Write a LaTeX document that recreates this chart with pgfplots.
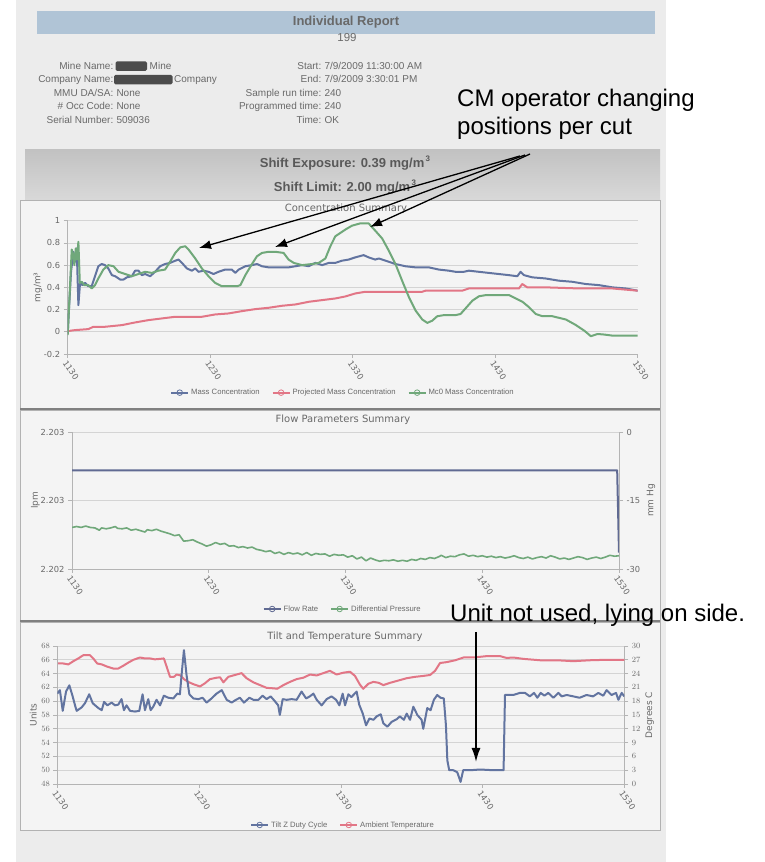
\documentclass[border=0pt]{standalone}
\usepackage{pgfplots}
\pgfplotsset{compat=1.18}
\usepackage{fontspec}
\setmainfont{Liberation Sans}
\newfontfamily\dv{DejaVu Sans}
\usetikzlibrary{arrows.meta}
\definecolor{cblue}{RGB}{98,116,160}
\definecolor{cred}{RGB}{226,118,134}
\definecolor{cgreen}{RGB}{112,168,122}
\definecolor{cflow}{RGB}{96,106,146}
\definecolor{gridc}{RGB}{212,212,212}
\definecolor{axc}{RGB}{180,180,180}
\definecolor{txtc}{RGB}{105,105,105}
\definecolor{paper}{RGB}{236,236,236}
\definecolor{panel}{RGB}{244,244,244}
\definecolor{bandblue}{RGB}{176,196,214}
\newcommand\tkfont{\dv\fontsize{8.3}{9}\selectfont}
\newcommand\lgfont{\fontsize{7.7}{8}\selectfont}
\pgfplotsset{rep/.style={
  scale only axis, anchor=south west,
  xmin=0, xmax=240, xtick={0,60,120,180,240},
  xticklabels={1130,1230,1330,1430,1530},
  axis line style={draw=axc, line width=0.7pt},
  tick style={draw=axc, line width=0.6pt},
  major tick length=4pt, tick align=outside,
  ymajorgrids, major grid style={draw=gridc, line width=0.6pt},
  xticklabel style={rotate=-55, anchor=north west, font=\tkfont, text=txtc, inner sep=1pt},
  yticklabel style={font=\tkfont, text=txtc},
  ylabel style={font=\dv\fontsize{9}{10}\selectfont, text=txtc, anchor=center},
  legend style={draw=none, fill=none, font=\lgfont, text=txtc, legend columns=-1,
     /tikz/every even column/.append style={column sep=10pt}},
  legend cell align=left,
  every axis plot/.append style={line width=2pt, line join=round},
}}
\pgfplotsset{noxax/.style={axis x line=none, xtick=\empty, xticklabels={}}}
\begin{document}
\begin{tikzpicture}[x=1pt,y=1pt]
\path[use as bounding box, fill=white] (0,0) rectangle (764,862);
\fill[paper] (16,0) rectangle (666,862);
% header
\fill[bandblue] (37,851) rectangle (655,828);
\node[font=\bfseries\fontsize{13}{14}\selectfont, text=txtc] at (346,840) {Individual Report};
\node[font=\fontsize{11.5}{12}\selectfont, text=txtc] at (347,824) {199};
\begin{scope}[every node/.style={inner sep=0pt, text=txtc, font=\fontsize{10}{11}\selectfont}]
\node[anchor=base east] at (113.5,792.5) {Mine Name:};
\fill[black!70, rounded corners=1.5pt] (115.5,800.5) rectangle (147,791);
\node[anchor=base west] at (149.5,792.5) {Mine};
\node[anchor=base east] at (113.5,779) {Company Name:};
\fill[black!70, rounded corners=1.5pt] (114,787) rectangle (172.5,777.5);
\node[anchor=base west] at (174,779) {Company};
\node[anchor=base east] at (113.5,765.5) {MMU DA/SA:};
\node[anchor=base west] at (116.3,765.5) {None};
\node[anchor=base east] at (113.5,752) {\# Occ Code:};
\node[anchor=base west] at (116.3,752) {None};
\node[anchor=base east] at (113.5,738) {Serial Number:};
\node[anchor=base west] at (116.3,738) {509036};
\node[anchor=base east] at (321.5,792.5) {Start:};
\node[anchor=base west] at (324.3,792.5) {7/9/2009 11:30:00 AM};
\node[anchor=base east] at (321.5,779) {End:};
\node[anchor=base west] at (324.3,779) {7/9/2009 3:30:01 PM};
\node[anchor=base east] at (321.5,765.5) {Sample run time:};
\node[anchor=base west] at (324.3,765.5) {240};
\node[anchor=base east] at (321.5,752) {Programmed time:};
\node[anchor=base west] at (324.3,752) {240};
\node[anchor=base east] at (321.5,738) {Time:};
\node[anchor=base west] at (324.3,738) {OK};
\end{scope}
% shift band
\shade[top color=black!24, bottom color=black!15] (25,712) rectangle (660,662);
\node[font=\bfseries\fontsize{13}{14}\selectfont, text=black!65] at (345,699) {Shift Exposure: 0.39 mg/m\raisebox{6pt}{\fontsize{8}{8}\selectfont\,3}};
\node[font=\bfseries\fontsize{13}{14}\selectfont, text=black!65] at (345,675) {Shift Limit: 2.00 mg/m\raisebox{6pt}{\fontsize{8}{8}\selectfont\,3}};
% panels
\filldraw[fill=panel, draw=black!30, line width=0.6pt] (20,662) rectangle (660,453);
\filldraw[fill=panel, draw=black!30, line width=0.6pt] (20,452) rectangle (660,241);
\filldraw[fill=panel, draw=black!30, line width=0.6pt] (20,240) rectangle (660,32);
\draw[black!50, line width=1.4pt] (20,453) -- (660,453);
\draw[black!50, line width=1.4pt] (20,241) -- (660,241);
\node[font=\dv\fontsize{10}{11}\selectfont, text=txtc] at (346,653) {Concentration Summary};
\node[font=\dv\fontsize{10}{11}\selectfont, text=txtc] at (343,442) {Flow Parameters Summary};
\node[font=\dv\fontsize{10}{11}\selectfont, text=txtc] at (345,225) {Tilt and Temperature Summary};

% ---------- chart 1 ----------
\begin{axis}[rep, at={(67.7pt,508pt)}, width=570pt, height=133.3pt,
  ymin=-0.2, ymax=1, ytick={-0.2,0,0.2,0.4,0.6,0.8,1},
  yticklabels={-0.2,0,0.2,0.4,0.6,0.8,1},
  axis x line*=bottom, axis y line*=left,
  ylabel={mg/m³}, ylabel style={at={(axis description cs:-0.052,0.5)}},
  legend style={at={(axis description cs:0.483,-0.29)}, anchor=center}]
\addlegendimage{cblue, line width=1.8pt, mark=o, mark size=2.8pt, mark options={fill=white, line width=0.8pt, solid}}
\addlegendentry{Mass Concentration}
\addlegendimage{cred, line width=1.8pt, mark=o, mark size=2.8pt, mark options={fill=white, line width=0.8pt, solid}}
\addlegendentry{Projected Mass Concentration}
\addlegendimage{cgreen, line width=1.8pt, mark=o, mark size=2.8pt, mark options={fill=white, line width=0.8pt, solid}}
\addlegendentry{Mc0 Mass Concentration}
\addplot[cblue, forget plot] coordinates {(0,-0.015) (1.4,0.54) (2.4,0.72) (3.1,0.63) (3.8,0.75) (4.5,0.24) (5.2,0.44) (6.2,0.42) (7.3,0.44) (8.7,0.41) (10.1,0.41) (11.5,0.50) (12.9,0.59) (14.3,0.61) (15.7,0.60) (17.1,0.57) (18.6,0.51) (20,0.50) (22.1,0.47) (23.5,0.47) (24.9,0.49) (27,0.50) (28.4,0.55) (29.8,0.55) (31.2,0.51) (32.6,0.52) (34.7,0.50) (36.8,0.54) (38.9,0.59) (41,0.61) (43.1,0.62) (45.3,0.64) (46.7,0.65) (48.1,0.62) (50.2,0.57) (52.3,0.55) (53.7,0.57) (55.1,0.54) (57.2,0.55) (59.3,0.54) (61.4,0.52) (63.5,0.54) (66.3,0.56) (69.1,0.56) (70.6,0.53) (72,0.56) (74.8,0.59) (77.6,0.60) (79.7,0.61) (81.8,0.59) (84.6,0.58) (87.4,0.58) (90.2,0.58) (93,0.58) (95.9,0.59) (98.7,0.60) (101.5,0.59) (104.3,0.62) (107.1,0.60) (109.9,0.62) (112.7,0.62) (115.5,0.64) (118.3,0.65) (121.1,0.67) (124.6,0.69) (126.7,0.67) (129.5,0.65) (131,0.66) (133.8,0.64) (138,0.61) (142.2,0.59) (146.4,0.58) (152,0.58) (156.3,0.56) (160.5,0.55) (163.3,0.54) (166.8,0.54) (168.9,0.55) (173.1,0.54) (177.3,0.53) (181.5,0.52) (185.7,0.51) (189.3,0.50) (190.7,0.54) (192.1,0.51) (195.6,0.49) (201.2,0.48) (206.8,0.46) (212.5,0.45) (218.1,0.43) (223.7,0.42) (229.3,0.40) (234.9,0.39) (240,0.37)};
\addplot[cred, forget plot] coordinates {(0,0.006) (3,0.015) (8.7,0.024) (10.8,0.045) (15.7,0.045) (22.8,0.06) (28.4,0.084) (34,0.105) (39.6,0.12) (45.3,0.135) (56.5,0.135) (62.1,0.156) (67.7,0.165) (73.4,0.186) (79,0.204) (84.6,0.216) (90.2,0.234) (95.9,0.246) (101.5,0.27) (107.1,0.285) (112.7,0.30) (116.9,0.318) (121.1,0.345) (125.3,0.36) (149.2,0.36) (150.7,0.37) (166.1,0.37) (168.9,0.39) (190,0.39) (191.4,0.43) (193.5,0.40) (201.2,0.40) (215.3,0.39) (229.3,0.39) (240,0.37)};
\addplot[cgreen, forget plot] coordinates {(0,-0.03) (1,0.42) (1.7,0.74) (2.4,0.69) (2.8,0.60) (3.4,0.75) (3.9,0.65) (4.5,0.81) (5.1,0.44) (5.9,0.45) (7,0.42) (8.7,0.42) (10.1,0.39) (11.5,0.42) (12.9,0.48) (15,0.56) (17.1,0.60) (19.3,0.59) (21.4,0.54) (24.2,0.52) (27,0.50) (29.8,0.52) (32.6,0.54) (35.4,0.53) (38.2,0.55) (41,0.56) (43.1,0.63) (45.3,0.71) (47.4,0.76) (49.5,0.77) (50.9,0.74) (53.7,0.66) (56.5,0.57) (59.3,0.50) (62.1,0.44) (64.9,0.41) (67.7,0.41) (71.3,0.41) (72.7,0.42) (74.8,0.51) (77.6,0.61) (79.7,0.68) (81.8,0.71) (84.6,0.72) (87.4,0.72) (90.9,0.71) (93,0.65) (95.2,0.62) (98.7,0.60) (102.9,0.61) (105.7,0.62) (108.5,0.66) (110.6,0.77) (112.7,0.86) (116.9,0.92) (119.7,0.955) (123.2,0.976) (126.7,0.976) (129.5,0.91) (132.4,0.84) (135.2,0.73) (138,0.61) (140.8,0.46) (143.7,0.31) (146.5,0.19) (149.3,0.11) (151.4,0.08) (153.5,0.10) (155.6,0.14) (158.4,0.15) (163.3,0.15) (165.4,0.16) (167.5,0.21) (170.4,0.28) (173.2,0.32) (176,0.33) (185.9,0.33) (188.7,0.30) (191.5,0.27) (194.3,0.22) (197.1,0.16) (199.9,0.14) (204.1,0.14) (209.8,0.11) (214,0.06) (217.5,0.01) (220.3,-0.04) (223.1,-0.02) (225.9,-0.025) (229.5,-0.035) (240,-0.035)};
\end{axis}

% ---------- chart 2 ----------
\begin{axis}[rep, at={(72pt,293pt)}, width=547pt, height=137pt,
  ymin=2.202, ymax=2.203, ytick={2.202,2.2025,2.203}, yticklabels={2.202,2.203,2.203},
  axis x line*=bottom, axis y line*=left,
  ylabel={lpm}, ylabel style={at={(axis description cs:-0.0667,0.5)}},
  legend style={at={(axis description cs:0.495,-0.292)}, anchor=center}]
\addlegendimage{cflow, line width=1.8pt, mark=o, mark size=2.8pt, mark options={fill=white, line width=0.8pt, solid}}
\addlegendentry{Flow Rate}
\addlegendimage{cgreen, line width=1.8pt, mark=o, mark size=2.8pt, mark options={fill=white, line width=0.8pt, solid}}
\addlegendentry{Differential Pressure}
\addplot[cflow, forget plot] coordinates {(0,2.20272) (239.2,2.20272) (240,2.20212)};
\end{axis}
\begin{axis}[rep, noxax, at={(72pt,293pt)}, width=547pt, height=137pt,
  ymin=-30, ymax=0, ytick={-30,-15,0}, yticklabels={-30,-15,0},
  axis y line*=right, ymajorgrids=false,
  ylabel={mm Hg}, ylabel style={at={(axis description cs:1.0585,0.5)}}]
\addplot[cgreen, line width=1.6pt] coordinates {(0,-20.9) (2,-20.7) (4,-20.9) (6,-20.6) (8,-20.9) (10,-21.0) (12,-21.5) (13,-21.0) (15,-21.2) (17,-21.0) (19,-20.7) (20,-21.1) (22,-21.2) (24,-21.0) (26,-21.5) (28,-21.3) (30,-21.6) (32,-21.9) (33,-21.4) (35,-21.6) (37,-21.3) (39,-21.7) (41,-22.0) (43,-22.3) (45,-22.7) (47,-22.5) (49,-23.9) (51,-23.8) (53,-23.6) (55,-24.1) (57,-24.5) (59,-25.0) (61,-24.7) (63,-24.2) (65,-24.6) (67,-24.4) (69,-25.0) (71,-24.9) (73,-25.3) (75,-25.1) (77,-25.4) (79,-25.2) (81,-25.7) (83,-25.9) (85,-26.2) (87,-26.0) (89,-26.6) (91,-26.3) (93,-26.8) (95,-26.4) (97,-26.7) (99,-26.5) (101,-26.9) (103,-26.4) (105,-27.0) (107,-26.6) (109,-26.8) (111,-26.7) (113,-27.2) (115,-26.8) (117,-27.0) (119,-26.9) (121,-27.4) (123,-27.1) (125,-27.8) (127,-27.4) (129,-28.2) (131,-27.6) (133,-28.0) (135,-28.3) (137,-28.1) (139,-28.2) (141,-28.0) (143,-28.3) (145,-28.1) (147,-28.3) (149,-27.9) (151,-28.1) (153,-27.7) (155,-27.9) (157,-27.5) (159,-27.7) (161,-27.3) (162,-27.0) (164,-27.5) (166,-27.2) (168,-27.3) (170,-26.9) (172,-26.7) (174,-27.2) (176,-27.0) (178,-27.3) (180,-27.1) (182,-27.4) (184,-27.2) (186,-27.5) (188,-27.3) (190,-27.6) (192,-27.4) (194,-27.1) (196,-27.5) (198,-27.7) (200,-27.4) (202,-27.8) (204,-27.5) (206,-27.3) (208,-27.6) (210,-27.1) (212,-27.4) (214,-27.8) (216,-27.6) (218,-27.9) (220,-27.6) (222,-27.3) (224,-27.5) (226,-27.9) (228,-27.6) (230,-27.4) (232,-27.7) (234,-27.4) (236,-27.0) (238,-27.2) (240,-27.1)};
\end{axis}

% ---------- chart 3 ----------
\begin{axis}[rep, noxax, at={(57.3pt,78pt)}, width=567pt, height=138pt,
  ymin=0, ymax=30, ytick={0,3,...,30},
  axis y line*=right,
  ylabel={Degrees C}, ylabel style={at={(axis description cs:1.045,0.5)}}]
\addplot[cred] coordinates {(0,26.2) (2.5,26.2) (4.7,26.0) (6.8,26.7) (8.9,27.3) (11,28.0) (13.8,28.0) (15.2,27.3) (16.9,26.2) (18.8,26.0) (21.2,25.5) (23.7,25.1) (25.8,25.1) (27.9,25.7) (30.1,26.4) (32.2,27.0) (35,27.5) (37.1,27.3) (39.2,27.3) (41.3,27.1) (43.5,27.2) (45.1,27.3) (46.3,25.5) (47.7,23.3) (49.4,23.3) (50.5,23.8) (52.2,23.6) (53.6,22.8) (55.4,22.2) (57.6,21.7) (60.4,21.2) (62.5,21.9) (64.6,22.8) (67.4,23.1) (68.9,23.2) (70.3,22.1) (72.4,23.3) (75.2,23.7) (78,24.1) (80.1,23.0) (83,22.1) (85.8,21.5) (88.6,20.9) (91.4,20.8) (93.1,20.7) (95.7,21.5) (98.5,22.2) (101.3,22.8) (104.1,23.1) (107,23.8) (109.8,23.6) (112.6,24.1) (115.4,24.6) (118.2,23.8) (121.1,24.2) (123.9,24.4) (126,23.5) (128.1,21.6) (129.5,20.7) (131.7,21.8) (133.8,22.2) (136,22.0) (138,21.5) (140.9,22.0) (144.4,22.5) (147.9,23.0) (151.5,23.3) (155,23.5) (157.8,23.7) (159.9,24.6) (162,26.3) (164.9,26.5) (168.4,26.9) (171.9,27.5) (176.1,27.5) (181.8,27.8) (187.4,27.8) (190.2,27.4) (193,27.5) (197.3,27.2) (204.3,26.9) (211.4,26.9) (218.4,26.7) (225.5,26.9) (232.5,27.0) (240,27.0)};
\end{axis}
\begin{axis}[rep, at={(57.3pt,78pt)}, width=567pt, height=138pt,
  ymin=48, ymax=68, ytick={48,50,...,68}, ymajorgrids=false,
  axis x line*=bottom, axis y line*=left,
  ylabel={Units}, ylabel style={at={(axis description cs:-0.0423,0.5)}},
  legend style={at={(axis description cs:0.504,-0.297)}, anchor=center}]
\addlegendimage{cblue, line width=1.8pt, mark=o, mark size=2.8pt, mark options={fill=white, line width=0.8pt, solid}}
\addlegendentry{Tilt Z Duty Cycle}
\addlegendimage{cred, line width=1.8pt, mark=o, mark size=2.8pt, mark options={fill=white, line width=0.8pt, solid}}
\addlegendentry{Ambient Temperature}
\addplot[cblue, forget plot] coordinates {(0,61.1) (1.1,61.6) (2.3,58.6) (3.7,61.4) (5.1,62.3) (6.5,60.7) (7.5,59.4) (8.2,58.6) (10.3,59.1) (11.7,59.7) (13.5,61.0) (15,59.7) (17.4,59.0) (18.8,58.7) (19.8,59.9) (21.2,59.4) (23,59.8) (24.4,59.4) (25.8,59.5) (27.2,60.3) (28.2,58.7) (29.3,59.4) (30.8,58.6) (32.9,58.5) (34.7,58.6) (36.1,61.0) (37.1,58.7) (38.5,60.3) (39.5,58.7) (40.6,59.2) (42,60.2) (43.5,59.4) (45.1,60.8) (47,60.5) (49.1,60.4) (50.8,61.1) (51.9,61.0) (52.6,63.8) (53.6,67.4) (54.7,63.8) (55.9,61.0) (57.6,60.4) (59.7,60.3) (61.5,60.5) (63.2,59.8) (65.3,60.4) (67.4,61.1) (69.6,61.6) (71.7,60.2) (73.8,59.8) (75.6,60.2) (77.3,60.5) (79,59.8) (81.3,60.5) (83,60.2) (85.1,60.2) (86.9,60.8) (88.6,60.3) (90.3,60.7) (92.1,60.0) (93.5,59.4) (94.2,58.0) (95.4,60.3) (97.1,60.2) (99.2,60.3) (101.3,60.2) (103.4,61.4) (105.3,60.4) (106.9,60.7) (108.4,61.1) (109.8,60.2) (111.9,59.4) (114,60.3) (116.1,60.7) (118,60.2) (119.4,59.4) (120.8,61.1) (121.8,59.4) (123.2,61.0) (124.5,60.6) (126.7,61.4) (127.8,59.5) (129.3,58.2) (130.7,56.5) (132.1,57.5) (133.8,57.3) (135.2,57.8) (136.9,58.1) (138,56.8) (139.7,56.3) (141.5,57.0) (143.7,57.4) (145,57.8) (146.7,57.3) (147.9,58.2) (149.3,57.3) (150.7,59.2) (152.4,58.0) (154.2,57.3) (154.9,56.0) (156.6,59.0) (158,58.7) (159.4,60.2) (160.8,60.9) (162.2,60.5) (163.6,60.4) (164.5,56.5) (165.1,51.4) (165.9,50.0) (167.6,50.0) (169.3,49.7) (170.7,48.3) (171.8,50.0) (175,50.0) (178.9,50.1) (184.5,50.0) (188.9,50.0) (189.5,60.9) (193,60.9) (195.8,61.2) (198,61.2) (200,60.7) (201.8,61.2) (203.2,60.5) (204.6,61.2) (206.2,60.8) (207.8,61.2) (210,60.5) (212.1,61.2) (213.5,60.7) (215.6,60.9) (218.4,60.7) (221.1,60.5) (224,60.9) (226.8,60.7) (229,61.2) (231.1,60.8) (232.5,61.6) (234.6,60.9) (236.5,61.2) (237.5,60.2) (238.9,61.2) (240,60.7)};
\end{axis}

% ---------- annotations ----------
\begin{scope}[font=\fontsize{24}{27}\selectfont]
\node[anchor=base west, inner sep=0pt] at (457,755) {CM operator changing};
\node[anchor=base west, inner sep=0pt] at (457,727) {positions per cut};
\node[anchor=base west, inner sep=0pt] at (450,240.5) {Unit not used, lying on side.};
\end{scope}
\draw[line width=1.3pt, -{Latex[length=12pt,width=9pt]}] (520,706) -- (199,614);
\draw[line width=1.3pt, -{Latex[length=12pt,width=9pt]}] (525,707) -- (275,615);
\draw[line width=1.3pt, -{Latex[length=12pt,width=9pt]}] (530,708) -- (370,635);
\draw[line width=1.6pt, -{Latex[length=14pt,width=9pt]}] (476,230) -- (476,100);
\end{tikzpicture}
\end{document}
